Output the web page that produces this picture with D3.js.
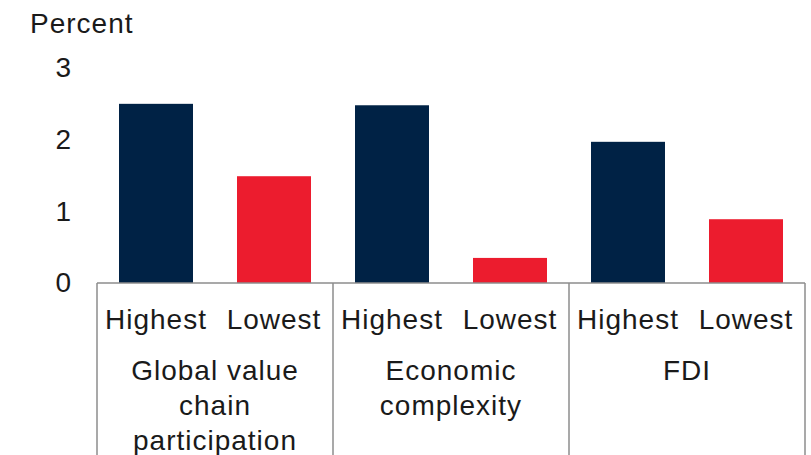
<!DOCTYPE html>
<html lang="en">
	<head>
		<meta charset="utf-8">
		<title>Highest vs lowest</title>
		<script type="text/javascript" src="https://cdn.jsdelivr.net/npm/d3@7"></script>
		<style type="text/css">
			body { margin: 0; background: #fff; }
			text { font-family: "Liberation Sans", Arial, sans-serif; font-size: 28px; letter-spacing: 1px; fill: #1a1a1a; }
			.frame { stroke: #8c8c8c; stroke-width: 1.5; fill: none; }
		</style>
	</head>
	<body>
		<script type="text/javascript">

			// data
			var categories = ["Global value\nchain\nparticipation", "Economic\ncomplexity", "FDI"];
			var series = ["Highest", "Lowest"];
			var highest = [2.50, 2.48, 1.97];
			var lowest = [1.49, 0.35, 0.89];
			var yTicks = [0, 1, 2, 3];
			var colors = ["#002245", "#EC1C2E"];

			var w = 811, h = 455;

			var svg = d3.select("body")
						.append("svg")
						.attr("width", w)
						.attr("height", h);

			var x0 = d3.scaleBand()
						.domain(categories)
						.range([97, 805])
						.padding(0);

			var x1 = d3.scaleBand()
						.domain(series)
						.range([0, x0.bandwidth()])
						.paddingInner(0.373)
						.paddingOuter(0.1865);

			var yScale = d3.scaleLinear()
						.domain([0, 3])
						.range([283, 68]);

			var rows = categories.map(function(c, i) {
				return {cat: c, values: [highest[i], lowest[i]]};
			});

			// bars
			var groups = svg.selectAll("g.cat")
				.data(rows)
				.enter()
				.append("g")
				.attr("class", "cat")
				.attr("transform", function(d) { return "translate(" + x0(d.cat) + ",0)"; });

			groups.selectAll("rect")
				.data(function(d) { return d.values.map(function(v, j) { return {s: series[j], v: v, j: j}; }); })
				.enter()
				.append("rect")
				.attr("x", function(d) { return x1(d.s); })
				.attr("y", function(d) { return yScale(d.v); })
				.attr("width", x1.bandwidth())
				.attr("height", function(d) { return yScale(0) - yScale(d.v); })
				.attr("fill", function(d) { return colors[d.j]; });

			// series labels
			groups.selectAll("text.ser")
				.data(series)
				.enter()
				.append("text")
				.attr("class", "ser")
				.attr("x", function(d) { return x1(d) + x1.bandwidth() / 2; })
				.attr("y", 329)
				.attr("text-anchor", "middle")
				.text(function(d) { return d; });

			// category labels
			groups.append("text")
				.attr("text-anchor", "middle")
				.attr("x", x0.bandwidth() / 2)
				.selectAll("tspan")
				.data(function(d) { return d.cat.split("\n"); })
				.enter()
				.append("tspan")
				.attr("x", x0.bandwidth() / 2)
				.attr("y", function(d, i) { return 380 + i * 35; })
				.text(function(d) { return d; });

			// frame: baseline and dividers
			svg.append("line")
				.attr("class", "frame")
				.attr("x1", x0.range()[0])
				.attr("x2", x0.range()[1])
				.attr("y1", yScale(0))
				.attr("y2", yScale(0));

			var edges = categories.map(function(c) { return x0(c); }).concat([x0.range()[1]]);
			svg.selectAll("line.div")
				.data(edges)
				.enter()
				.append("line")
				.attr("class", "frame")
				.attr("x1", function(d) { return d; })
				.attr("x2", function(d) { return d; })
				.attr("y1", yScale(0))
				.attr("y2", h);

			// y axis
			var yAxis = d3.axisLeft(yScale)
						.tickValues(yTicks)
						.tickFormat(d3.format("d"))
						.tickSize(0)
						.tickPadding(0);

			var ya = svg.append("g")
				.attr("transform", "translate(71,0)")
				.call(yAxis);
			ya.select(".domain").remove();
			ya.selectAll("text")
				.attr("font-family", null)
				.attr("font-size", null)
				.attr("fill", null)
				.attr("dx", "1px");

			svg.append("text")
				.attr("x", 30)
				.attr("y", 33)
				.text("Percent");

		</script>
	</body>
</html>
